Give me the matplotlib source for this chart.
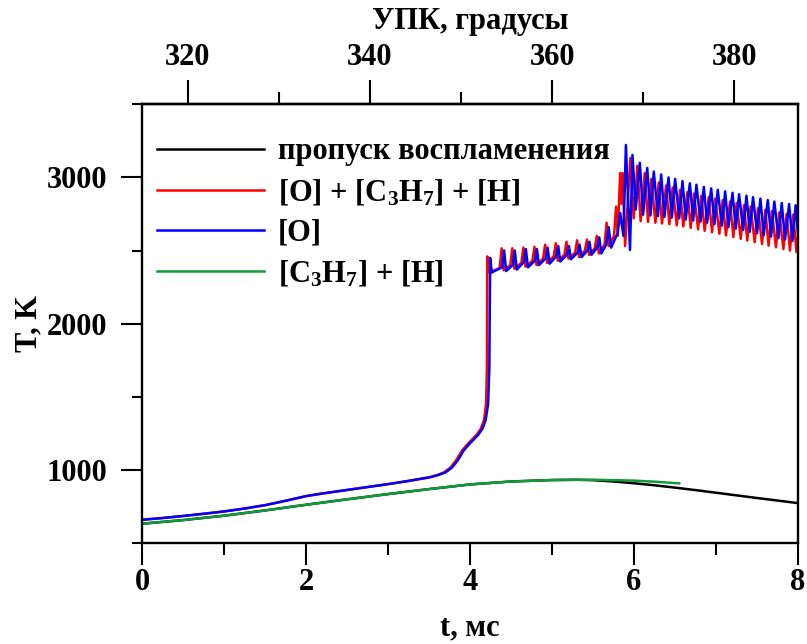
import numpy as np
import matplotlib
matplotlib.use('Agg')
import matplotlib.pyplot as plt

plt.rcParams['font.family'] = ['Liberation Serif', 'DejaVu Serif']
plt.rcParams['font.weight'] = 'bold'
plt.rcParams['mathtext.fontset'] = 'custom'
plt.rcParams['mathtext.rm'] = 'Liberation Serif:bold'
plt.rcParams['mathtext.it'] = 'Liberation Serif:bold'
plt.rcParams['mathtext.bf'] = 'Liberation Serif:bold'
plt.rcParams['mathtext.default'] = 'rm'

# --- misfire (no ignition) and [C3H7]+[H] curves ---
misfire_t = [0.0, 0.5, 1.0, 1.5, 2.0, 2.5, 3.0, 3.5, 4.0, 4.5, 5.0, 5.3, 5.5, 5.75,
             6.0, 6.25, 6.5, 6.75, 7.0, 7.5, 8.0]
misfire_T = [631, 656, 686, 722, 761, 798, 834, 868, 900, 920, 930, 932, 929, 920,
             908, 894, 878, 861, 843, 807, 772]

c3h7_t = [0.0, 0.5, 1.0, 1.5, 2.0, 2.5, 3.0, 3.5, 4.0, 4.5, 5.0, 5.5, 6.0, 6.3, 6.55]
c3h7_T = [631, 656, 686, 722, 761, 798, 834, 868, 900, 920, 930, 932, 926, 917, 907]

# --- [O]: compression up to ignition ---
o_pre_t = [0.0, 0.25, 0.5, 0.75, 1.0, 1.25, 1.5, 1.75, 2.0, 2.2, 2.5, 2.75, 3.0,
           3.25, 3.5, 3.6, 3.7, 3.78, 3.85, 3.92, 3.98, 4.04, 4.1, 4.15, 4.19,
           4.22, 4.235]
o_pre_T = [658, 670, 684, 699, 715, 735, 758, 788, 820, 838, 862, 882, 902,
           924, 948, 962, 982, 1015, 1065, 1130, 1170, 1205, 1240, 1280, 1340,
           1450, 1700]

# --- [O]: after ignition, pressure-wave oscillations ---
o_post_t = [4.245, 4.265, 4.39, 4.415, 4.44, 4.52, 4.545, 4.57, 4.655, 4.68, 4.705,
            4.79, 4.815, 4.84, 4.92, 4.945, 4.97, 5.05, 5.075, 5.10, 5.18, 5.205,
            5.23, 5.31, 5.335, 5.36, 5.43, 5.455, 5.48, 5.55, 5.575, 5.60, 5.66,
            5.69, 5.72, 5.80, 5.83, 5.87, 5.90, 5.95, 5.98, 6.02,
            6.07, 6.11, 6.16, 6.20, 6.24, 6.29, 6.33, 6.37, 6.42, 6.46, 6.50, 6.55,
            6.59, 6.63, 6.68, 6.72, 6.76, 6.81, 6.85, 6.89, 6.94, 6.98, 7.02, 7.07,
            7.11, 7.15, 7.20, 7.24, 7.28, 7.33, 7.37, 7.41, 7.45, 7.50, 7.54, 7.58,
            7.63, 7.67, 7.71, 7.76, 7.80, 7.84, 7.89, 7.93, 7.97, 8.0]
o_post_T = [2450, 2350, 2385, 2500, 2360, 2400, 2500, 2370, 2420, 2510, 2385,
            2430, 2510, 2400, 2445, 2520, 2410, 2460, 2530, 2425, 2470, 2530,
            2440, 2485, 2540, 2455, 2500, 2560, 2470, 2520, 2590, 2480, 2540,
            2660, 2520, 2620, 2757, 2600, 3222, 2504, 3154, 2780,
            3100, 2745, 3065, 2740, 3040, 2735, 3020, 2730, 3000, 2725, 2990, 2720,
            2975, 2712, 2960, 2705, 2950, 2698, 2935, 2690, 2925, 2680, 2915, 2670,
            2905, 2660, 2895, 2650, 2885, 2640, 2875, 2628, 2865, 2618, 2855, 2605,
            2845, 2595, 2835, 2585, 2825, 2575, 2818, 2565, 2810, 2600]

# --- [O] + [C3H7] + [H]: compression up to ignition ---
all_pre_t = [0.0, 0.25, 0.5, 0.75, 1.0, 1.25, 1.5, 1.75, 2.0, 2.2, 2.5, 2.75, 3.0,
             3.25, 3.5, 3.59, 3.68, 3.76, 3.83, 3.90, 3.96, 4.02, 4.08, 4.13, 4.17,
             4.195, 4.205]
all_pre_T = [658, 670, 684, 699, 715, 735, 758, 788, 820, 838, 862, 882, 902,
             924, 948, 962, 982, 1015, 1065, 1130, 1170, 1205, 1240, 1280, 1340,
             1450, 1700]

# --- [O] + [C3H7] + [H]: after ignition ---
all_post_t = [4.21, 4.235, 4.36, 4.385, 4.41, 4.49, 4.515, 4.54, 4.625, 4.65, 4.675,
              4.76, 4.785, 4.81, 4.89, 4.915, 4.94, 5.02, 5.045, 5.07, 5.15, 5.175,
              5.20, 5.28, 5.305, 5.33, 5.40, 5.425, 5.45, 5.52, 5.545, 5.57, 5.64,
              5.665, 5.69, 5.755, 5.78, 5.80, 5.83, 5.845, 5.86, 5.89, 5.955, 5.995,
              6.04, 6.08, 6.13, 6.17, 6.21, 6.26, 6.30, 6.34, 6.39, 6.43, 6.47, 6.52,
              6.56, 6.60, 6.65, 6.69, 6.73, 6.78, 6.82, 6.86, 6.91, 6.95, 6.99, 7.04,
              7.08, 7.12, 7.17, 7.21, 7.25, 7.30, 7.34, 7.38, 7.42, 7.47, 7.51, 7.56,
              7.60, 7.64, 7.68, 7.73, 7.77, 7.82, 7.86, 7.90, 7.94, 7.98, 8.0]
all_post_T = [2460, 2350, 2380, 2515, 2365, 2400, 2515, 2375, 2415, 2520, 2390,
              2430, 2525, 2400, 2445, 2540, 2415, 2460, 2550, 2430, 2470, 2560,
              2445, 2485, 2570, 2455, 2500, 2575, 2470, 2515, 2600, 2480, 2540,
              2690, 2530, 2600, 2800, 2600, 3030, 2820, 3030, 2530, 3133, 2720,
              3080, 2700, 3030, 2695, 2990, 2690, 2965, 2685, 2945, 2680, 2930, 2672,
              2915, 2665, 2900, 2655, 2890, 2645, 2875, 2635, 2865, 2625, 2855, 2615,
              2845, 2603, 2835, 2592, 2825, 2580, 2810, 2568, 2800, 2557, 2790, 2545,
              2780, 2533, 2770, 2522, 2760, 2510, 2750, 2500, 2745, 2490, 2600]

labels = ['пропуск воспламенения',
          r'[O] + [C$_3$H$_7$] + [H]',
          '[O]',
          r'[C$_3$H$_7$] + [H]']

fs = 22

fig = plt.figure(figsize=(8.07, 6.44), dpi=100)
ax = fig.add_axes([0.176, 0.157, 0.813, 0.681])

lw = 1.8
ax.plot(misfire_t, misfire_T, color='black', lw=lw, label=labels[0])
ax.plot(all_pre_t + all_post_t, all_pre_T + all_post_T, color='#ff0000', lw=lw, label=labels[1])
ax.plot(o_pre_t + o_post_t, o_pre_T + o_post_T, color='#0000ff', lw=lw, label=labels[2])
ax.plot(c3h7_t, c3h7_T, color='#109a38', lw=lw, label=labels[3])

ax.set_xlim(0, 8)
ax.set_ylim(500, 3500)
ax.set_xticks([0, 2, 4, 6, 8])
ax.set_xticks([1, 3, 5, 7], minor=True)
ax.set_yticks([1000, 2000, 3000])
ax.set_yticks([500, 1500, 2500, 3500], minor=True)

for s in ax.spines.values():
    s.set_linewidth(1.7)

ax.tick_params(which='both', direction='out', width=1.5, labelsize=fs, top=False, right=False)
ax.tick_params(axis='y', which='major', length=15, pad=10)
ax.tick_params(axis='y', which='minor', length=7.5)
ax.tick_params(axis='x', which='major', length=16, pad=2)
ax.tick_params(axis='x', which='minor', length=8.5)

ax.set_xlabel('t, мс', fontsize=fs, fontweight='bold', labelpad=12)
ax.set_ylabel('T, K', fontsize=fs, fontweight='bold', labelpad=2)

# crank angle on the top axis
top = ax.secondary_xaxis('top', functions=(lambda t: 315 + 9 * np.asarray(t),
                                           lambda a: (np.asarray(a) - 315) / 9))
top.set_xticks([320, 340, 360, 380])
top.set_xticks([330, 350, 370], minor=True)
top.tick_params(which='both', direction='out', width=1.5, labelsize=fs)
top.tick_params(which='major', length=17, pad=6)
top.tick_params(which='minor', length=9)
top.set_xlabel('УПК, градусы', fontsize=fs, fontweight='bold', labelpad=10)
top.spines['top'].set_linewidth(1.7)

ax.legend(loc='upper left', bbox_to_anchor=(0.023, 0.925), frameon=False,
          fontsize=fs, handlelength=3.5, handletextpad=0.45, labelspacing=0.36,
          borderpad=0, borderaxespad=0)

fig.savefig('out.png', dpi=100)
